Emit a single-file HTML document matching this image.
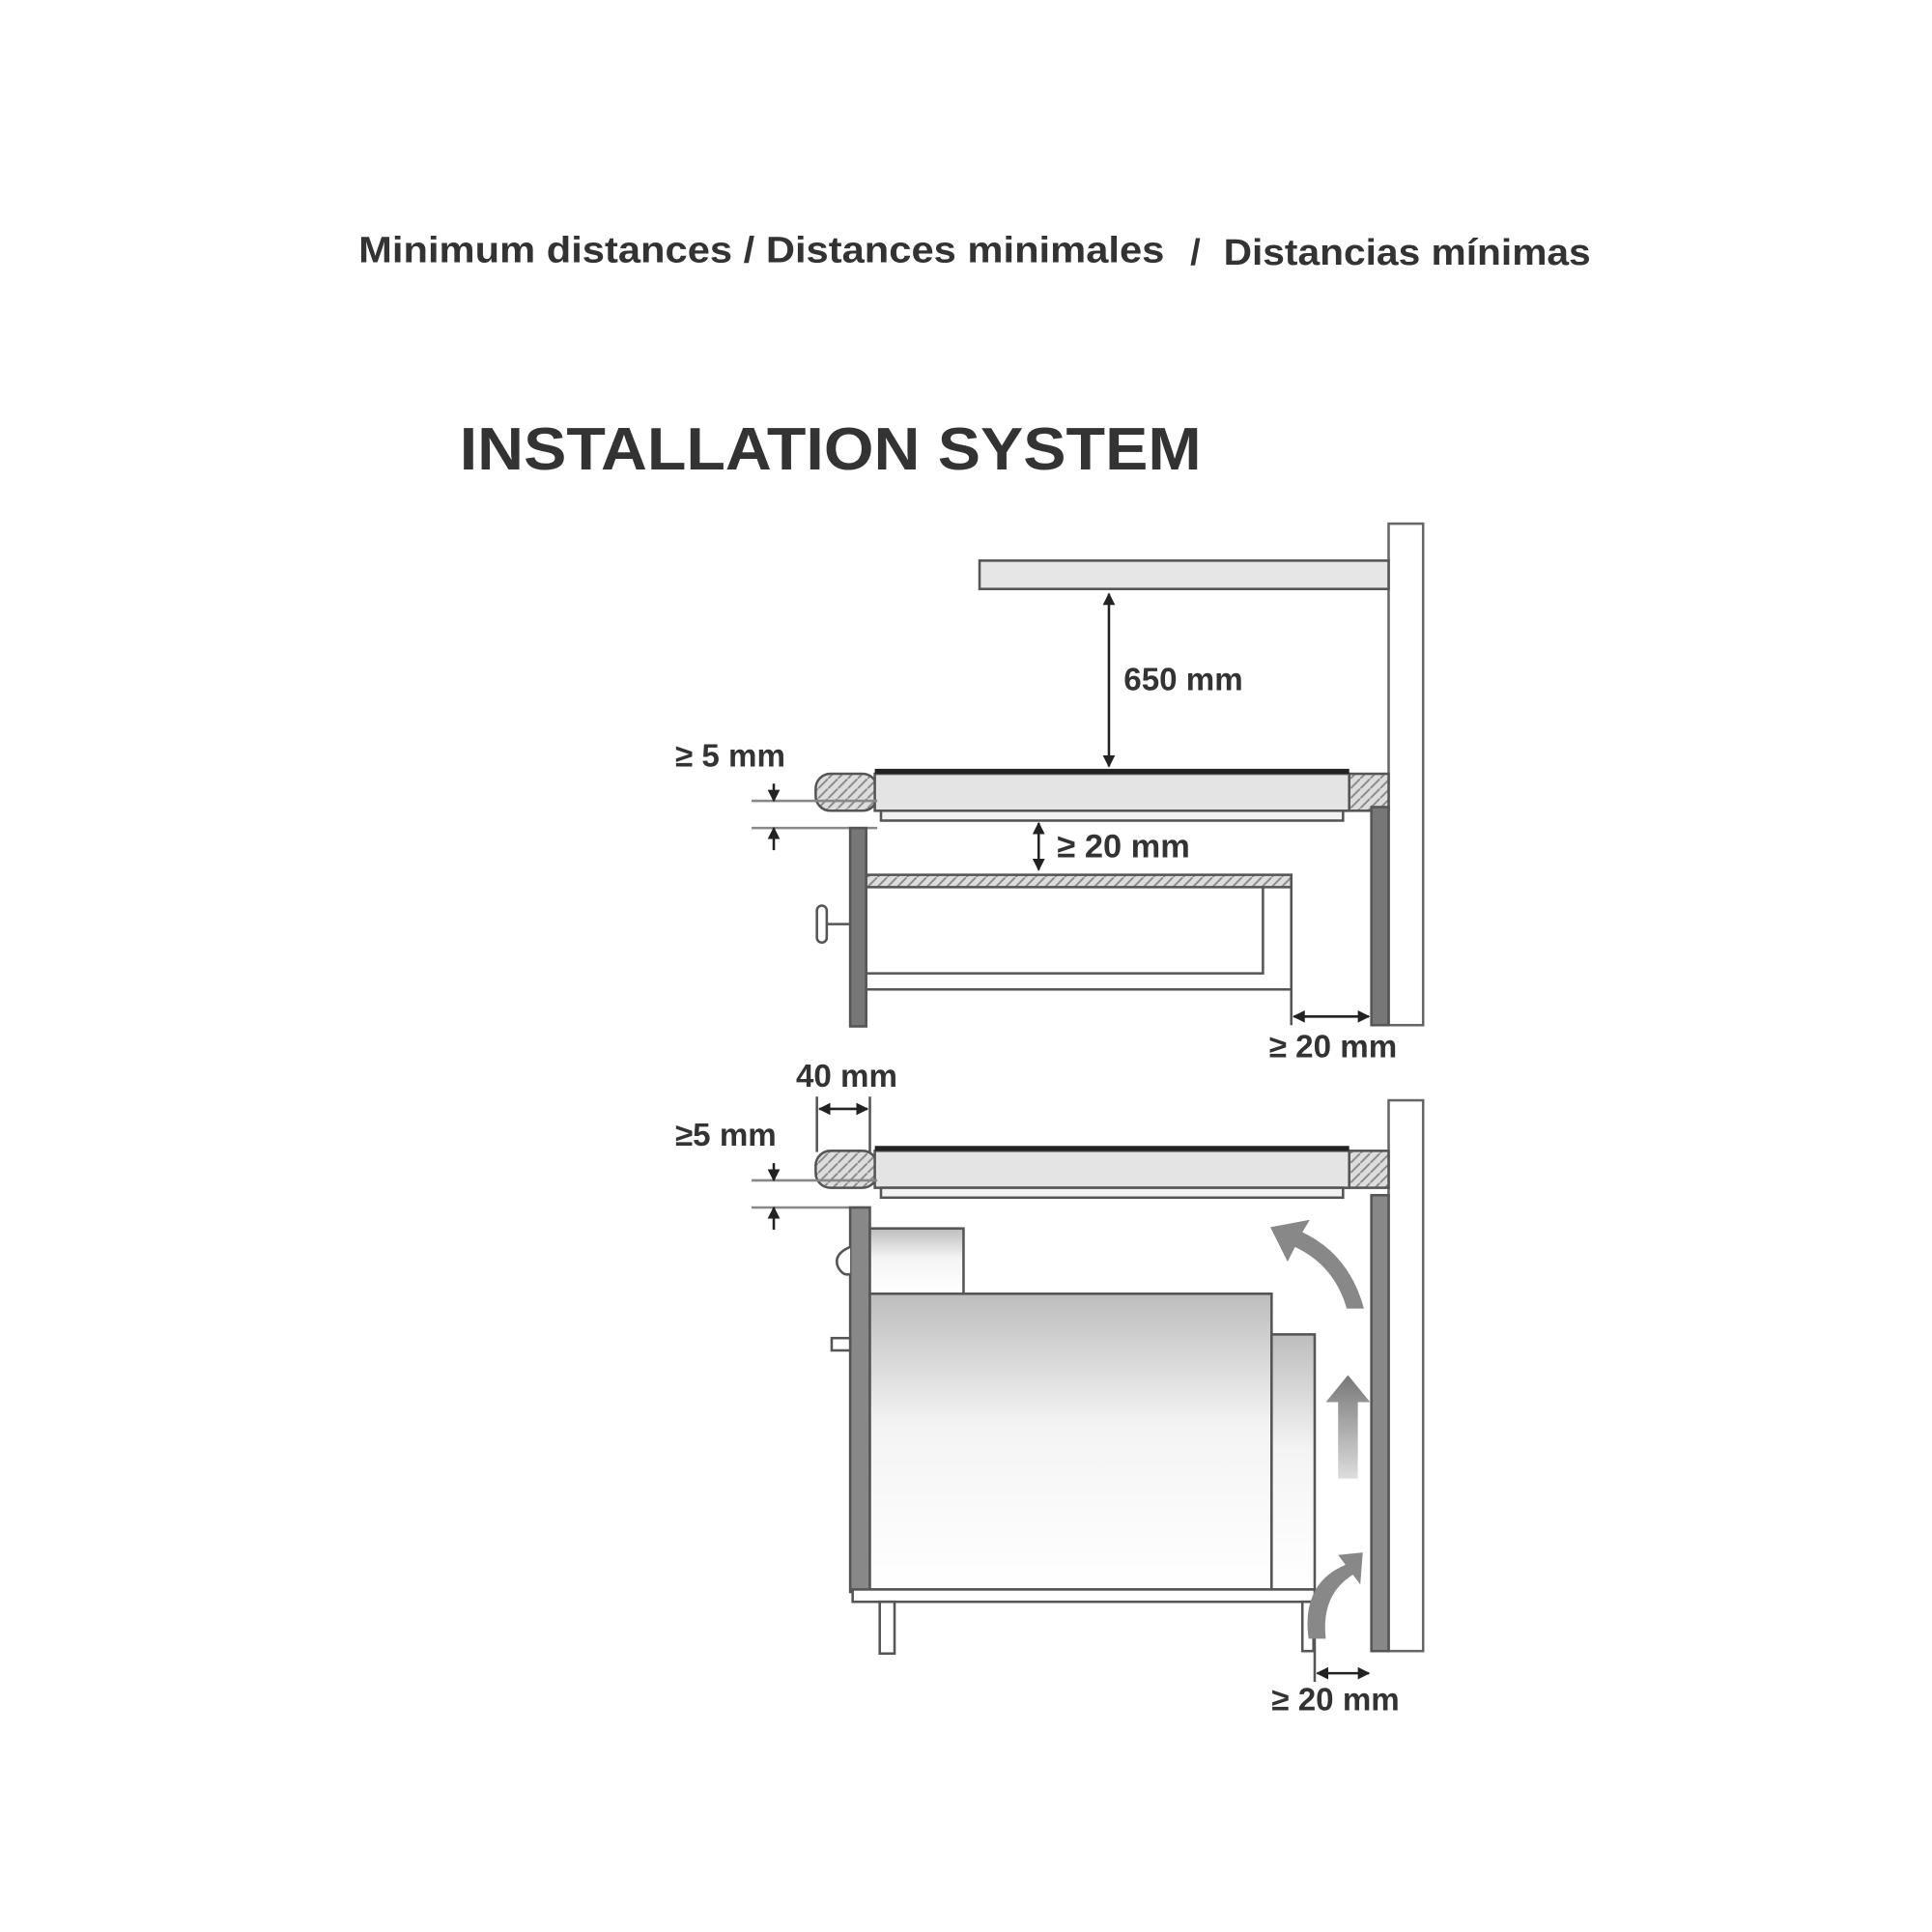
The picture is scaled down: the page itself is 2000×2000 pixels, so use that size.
<!DOCTYPE html>
<html><head><meta charset="utf-8"><style>
html,body{margin:0;padding:0;background:#fff;}
svg{display:block;}
text{font-family:"Liberation Sans",Arial,sans-serif;font-weight:bold;fill:#333;}
</style></head><body>
<svg width="2000" height="2000" viewBox="0 0 1568 1568" xmlns="http://www.w3.org/2000/svg">
<defs>
<marker id="a" markerWidth="10" markerHeight="10" refX="9" refY="5" orient="auto-start-reverse" markerUnits="userSpaceOnUse"><path d="M0,0 L10,5 L0,10 z" fill="#222"/></marker>
<linearGradient id="g" x1="0" y1="0" x2="0" y2="1"><stop offset="0" stop-color="#bdbdbd"/><stop offset="0.45" stop-color="#f4f4f4"/><stop offset="1" stop-color="#fff"/></linearGradient>
<linearGradient id="ga" x1="0" y1="0" x2="0" y2="1"><stop offset="0" stop-color="#777"/><stop offset="1" stop-color="#ddd"/></linearGradient>
<pattern id="h" width="8" height="8" patternUnits="userSpaceOnUse"><rect width="8" height="8" fill="#ddd"/><path d="M0,8 L8,0" stroke="#888" stroke-width="1.5"/></pattern>
</defs>
<text x="291" y="213" font-size="30" textLength="654" lengthAdjust="spacingAndGlyphs">Minimum distances / Distances minimales</text>
<text x="966" y="215" font-size="30">/</text>
<text x="993" y="215" font-size="30" textLength="298" lengthAdjust="spacingAndGlyphs">Distancias mínimas</text>
<text x="373" y="381" font-size="49" textLength="602" lengthAdjust="spacingAndGlyphs">INSTALLATION SYSTEM</text>

<g stroke="#555" stroke-width="2" fill="none">
<rect x="1127" y="425" width="28" height="407" fill="#fff" stroke="#666"/>
<rect x="795" y="455" width="332" height="23" fill="#e6e6e6"/>
<line x1="900" y1="482" x2="900" y2="622" stroke="#222" marker-start="url(#a)" marker-end="url(#a)"/>
<rect x="662" y="628" width="50" height="30" rx="12" fill="url(#h)"/>
<rect x="1092" y="628" width="35" height="30" fill="url(#h)"/>
<rect x="710" y="628" width="385" height="30" fill="#e4e4e4"/>
<line x1="710" y1="626" x2="1095" y2="626" stroke="#222" stroke-width="4"/>
<rect x="715" y="658" width="375" height="8" fill="#f2f2f2"/>
<line x1="610" y1="650" x2="712" y2="650" stroke="#888"/>
<line x1="610" y1="672" x2="712" y2="672" stroke="#888"/>
<line x1="628" y1="636" x2="628" y2="650" stroke="#222" marker-end="url(#a)"/>
<line x1="628" y1="690" x2="628" y2="672" stroke="#222" marker-end="url(#a)"/>
<rect x="690" y="672" width="13" height="161" fill="#777"/>
<rect x="703" y="710" width="345" height="10" fill="url(#h)"/>
<polyline points="703,790 1025,790 1025,720"/>
<polyline points="703,803 1048,803 1048,720"/>
<rect x="663" y="735" width="8" height="30" rx="4" fill="#fff"/>
<line x1="671" y1="750" x2="690" y2="750"/>
<line x1="843" y1="668" x2="843" y2="706" stroke="#222" marker-start="url(#a)" marker-end="url(#a)"/>
<rect x="1113" y="655" width="14" height="177" fill="#777"/>
<line x1="1048" y1="803" x2="1048" y2="832"/>
<line x1="1050" y1="825" x2="1111" y2="825" stroke="#222" marker-start="url(#a)" marker-end="url(#a)"/>

<rect x="1127" y="893" width="28" height="447" fill="#fff" stroke="#666"/>
<line x1="663" y1="890" x2="663" y2="935"/>
<line x1="706" y1="890" x2="706" y2="935"/>
<line x1="665" y1="900" x2="704" y2="900" stroke="#222" marker-start="url(#a)" marker-end="url(#a)"/>
<rect x="662" y="934" width="50" height="30" rx="12" fill="url(#h)"/>
<rect x="1092" y="934" width="35" height="30" fill="url(#h)"/>
<rect x="710" y="934" width="385" height="30" fill="#e4e4e4"/>
<line x1="710" y1="932" x2="1095" y2="932" stroke="#222" stroke-width="4"/>
<rect x="715" y="964" width="375" height="8" fill="#f2f2f2"/>
<line x1="610" y1="958" x2="712" y2="958" stroke="#888"/>
<line x1="610" y1="980" x2="706" y2="980" stroke="#888"/>
<line x1="628" y1="944" x2="628" y2="958" stroke="#222" marker-end="url(#a)"/>
<line x1="628" y1="998" x2="628" y2="980" stroke="#222" marker-end="url(#a)"/>
<rect x="690" y="980" width="16" height="312" fill="#888"/>
<rect x="706" y="997" width="76" height="53" fill="url(#g)"/>
<rect x="706" y="1050" width="326" height="240" fill="url(#g)"/>
<rect x="1032" y="1083" width="35" height="207" fill="url(#g)"/>
<rect x="692" y="1290" width="375" height="10" fill="#fff"/>
<rect x="714" y="1300" width="12" height="42" fill="#fff"/>
<rect x="1057" y="1300" width="9" height="40" fill="#fff"/>
<path d="M690,1012 q-14,6 -10,16 q4,8 10,6" fill="#fff"/>
<rect x="675" y="1086" width="15" height="10" fill="#fff"/>
<rect x="1113" y="970" width="14" height="370" fill="#888"/>
<line x1="1067" y1="1300" x2="1067" y2="1365"/>
<line x1="1069" y1="1358" x2="1111" y2="1358" stroke="#222" marker-start="url(#a)" marker-end="url(#a)"/>
</g>
<g stroke="none">
<path d="M1093,1062 q-10,-35 -42,-50 l-6,12 -14,-28 32,-6 -6,10 q38,18 50,62 z" fill="#888"/>
<path d="M1086,1200 l0,-62 -10,0 18,-22 18,22 -10,0 0,62 z" fill="url(#ga)"/>
<path d="M1062,1330 q-6,-45 30,-60 l-6,-8 20,-2 -2,26 -6,-8 q-26,16 -22,52 z" fill="#888"/>
</g>
<text x="912" y="560" font-size="26">650 mm</text>
<text x="548" y="622" font-size="26">≥ 5 mm</text>
<text x="858" y="696" font-size="27">≥ 20 mm</text>
<text x="1030" y="858" font-size="26">≥ 20 mm</text>
<text x="646" y="882" font-size="26">40 mm</text>
<text x="548" y="930" font-size="26">≥5 mm</text>
<text x="1032" y="1388" font-size="26">≥ 20 mm</text>
</svg>
</body></html>
